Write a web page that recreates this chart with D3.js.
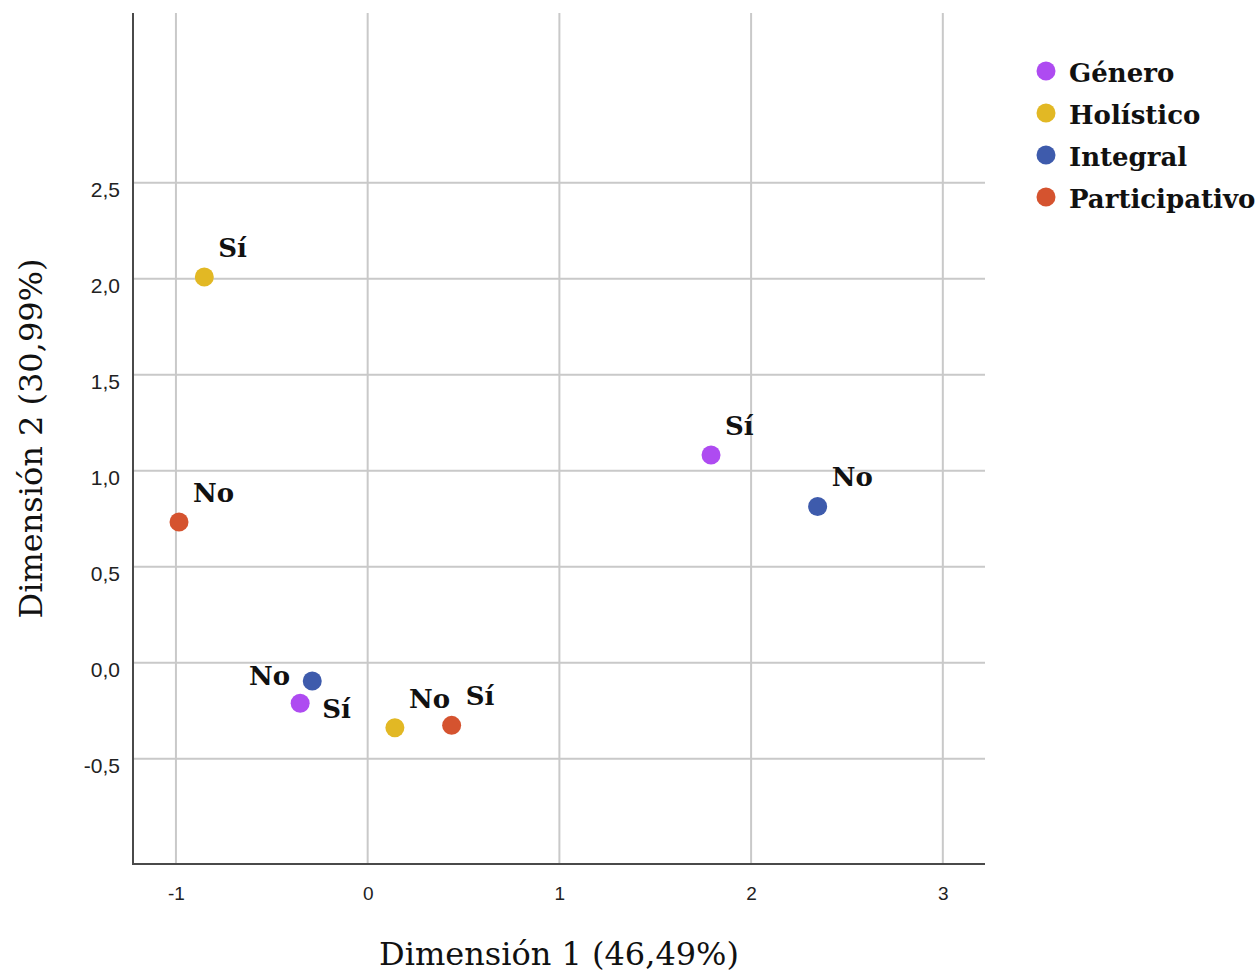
<!DOCTYPE html>
<html>
<head>
<meta charset="utf-8">
<script src="https://cdn.jsdelivr.net/npm/d3@7/dist/d3.min.js"></script>
<style>
  html, body { margin: 0; padding: 0; background: #ffffff; }
  svg { display: block; }
</style>
</head>
<body>
<svg id="chart" width="1258" height="975"></svg>
<script>
// Category points of a two-dimensional correspondence map
const categories = ["Género", "Holístico", "Integral", "Participativo"];
const categoryColors = ["#ae4bf1", "#e2b824", "#3e5bac", "#d5532f"];
const levelLabels = ["Sí", "No"];

// Coordinates of the "Sí" level of each variable
const dim1Si = [1.791, -0.852, -0.289, 0.438];
const dim2Si = [1.082, 2.009, -0.095, -0.326];
// Coordinates of the "No" level of each variable
const dim1No = [-0.352, 0.142, 2.347, -0.984];
const dim2No = [-0.211, -0.338, 0.814, 0.733];

// Where each point label sits relative to its marker
const labelSideSi = ["ur", "ur", "lr", "ur"];
const labelSideNo = ["ul", "ur", "ur", "ur"];

const xTicks = [-1, 0, 1, 2, 3];
const yTicks = [-0.5, 0, 0.5, 1, 1.5, 2, 2.5];
const xDomain = [-1.224, 3.220];
const yDomain = [-1.048, 3.384];
const xTitle = "Dimensión 1 (46,49%)";
const yTitle = "Dimensión 2 (30,99%)";

const plot = { left: 133, right: 985, top: 13, bottom: 864 };
const svg = d3.select("#chart");

const x = d3.scaleLinear().domain(xDomain).range([plot.left, plot.right]);
const y = d3.scaleLinear().domain(yDomain).range([plot.bottom, plot.top]);
const color = d3.scaleOrdinal().domain(categories).range(categoryColors);

// Decimal comma, plain hyphen for negatives
const fmtX = v => String(v);
const fmtY = v => v.toFixed(1).replace(".", ",");

// Grid lines
svg.append("g").selectAll("line").data(xTicks).join("line")
  .attr("x1", d => x(d)).attr("x2", d => x(d))
  .attr("y1", plot.top).attr("y2", plot.bottom)
  .attr("stroke", "#c9c9c9").attr("stroke-width", 2);
svg.append("g").selectAll("line").data(yTicks).join("line")
  .attr("x1", plot.left).attr("x2", plot.right)
  .attr("y1", d => y(d)).attr("y2", d => y(d))
  .attr("stroke", "#c9c9c9").attr("stroke-width", 2);

// Axes (tick labels only, no tick marks)
const xAxis = d3.axisBottom(x).tickValues(xTicks).tickFormat(fmtX).tickSize(0).tickPadding(0);
const gx = svg.append("g").attr("transform", `translate(0,${plot.bottom})`).call(xAxis);
gx.select(".domain").remove();
gx.selectAll("text")
  .attr("y", 36).attr("dy", null)
  .attr("font-family", "'Liberation Sans', Arial, sans-serif")
  .attr("font-size", 19).attr("fill", "#222");

const yAxis = d3.axisLeft(y).tickValues(yTicks).tickFormat(fmtY).tickSize(0).tickPadding(0);
const gy = svg.append("g").attr("transform", `translate(${plot.left},0)`).call(yAxis);
gy.select(".domain").remove();
gy.selectAll("text")
  .attr("x", -13).attr("dy", null).attr("y", 14)
  .attr("font-family", "'Liberation Sans', Arial, sans-serif")
  .attr("font-size", 21).attr("fill", "#222");

// Axis lines
svg.append("line")
  .attr("x1", plot.left).attr("x2", plot.left)
  .attr("y1", plot.top).attr("y2", plot.bottom)
  .attr("stroke", "#4a4a4a").attr("stroke-width", 2);
svg.append("line")
  .attr("x1", plot.left - 1).attr("x2", plot.right)
  .attr("y1", plot.bottom).attr("y2", plot.bottom)
  .attr("stroke", "#4a4a4a").attr("stroke-width", 2);

// Axis titles
svg.append("text")
  .attr("x", (plot.left + plot.right) / 2).attr("y", 965)
  .attr("text-anchor", "middle")
  .attr("font-family", "'DejaVu Serif', serif")
  .attr("font-size", 32).attr("fill", "#111")
  .text(xTitle);
svg.append("text")
  .attr("transform", `translate(42,${(plot.top + plot.bottom) / 2}) rotate(-90)`)
  .attr("text-anchor", "middle")
  .attr("font-family", "'DejaVu Serif', serif")
  .attr("font-size", 32).attr("fill", "#111")
  .text(yTitle);

// Build point records
const points = [];
categories.forEach((c, i) => {
  points.push({ cat: c, level: levelLabels[0], d1: dim1Si[i], d2: dim2Si[i], side: labelSideSi[i] });
  points.push({ cat: c, level: levelLabels[1], d1: dim1No[i], d2: dim2No[i], side: labelSideNo[i] });
});

const labelOffset = {
  ur: { dx: 14, dy: -20, anchor: "start" },
  ul: { dx: -10, dy: -18, anchor: "end" },
  lr: { dx: 10, dy: 37, anchor: "start" }
};

svg.append("g").selectAll("circle").data(points).join("circle")
  .attr("cx", d => x(d.d1)).attr("cy", d => y(d.d2))
  .attr("r", 9.5)
  .attr("fill", d => color(d.cat));

svg.append("g").selectAll("text").data(points).join("text")
  .attr("x", d => x(d.d1) + labelOffset[d.side].dx)
  .attr("y", d => y(d.d2) + labelOffset[d.side].dy)
  .attr("text-anchor", d => labelOffset[d.side].anchor)
  .attr("font-family", "'DejaVu Serif', serif")
  .attr("font-weight", "bold")
  .attr("font-size", 26).attr("fill", "#111")
  .text(d => d.level);

// Legend
const legend = svg.append("g").attr("transform", "translate(1046,71)");
const rows = legend.selectAll("g").data(categories).join("g")
  .attr("transform", (d, i) => `translate(0,${i * 42})`);
rows.append("circle").attr("r", 9.5).attr("fill", d => color(d));
rows.append("text")
  .attr("x", 23).attr("y", 11)
  .attr("font-family", "'DejaVu Serif', serif")
  .attr("font-weight", "bold")
  .attr("font-size", 26).attr("fill", "#111")
  .text(d => d);
</script>
</body>
</html>
